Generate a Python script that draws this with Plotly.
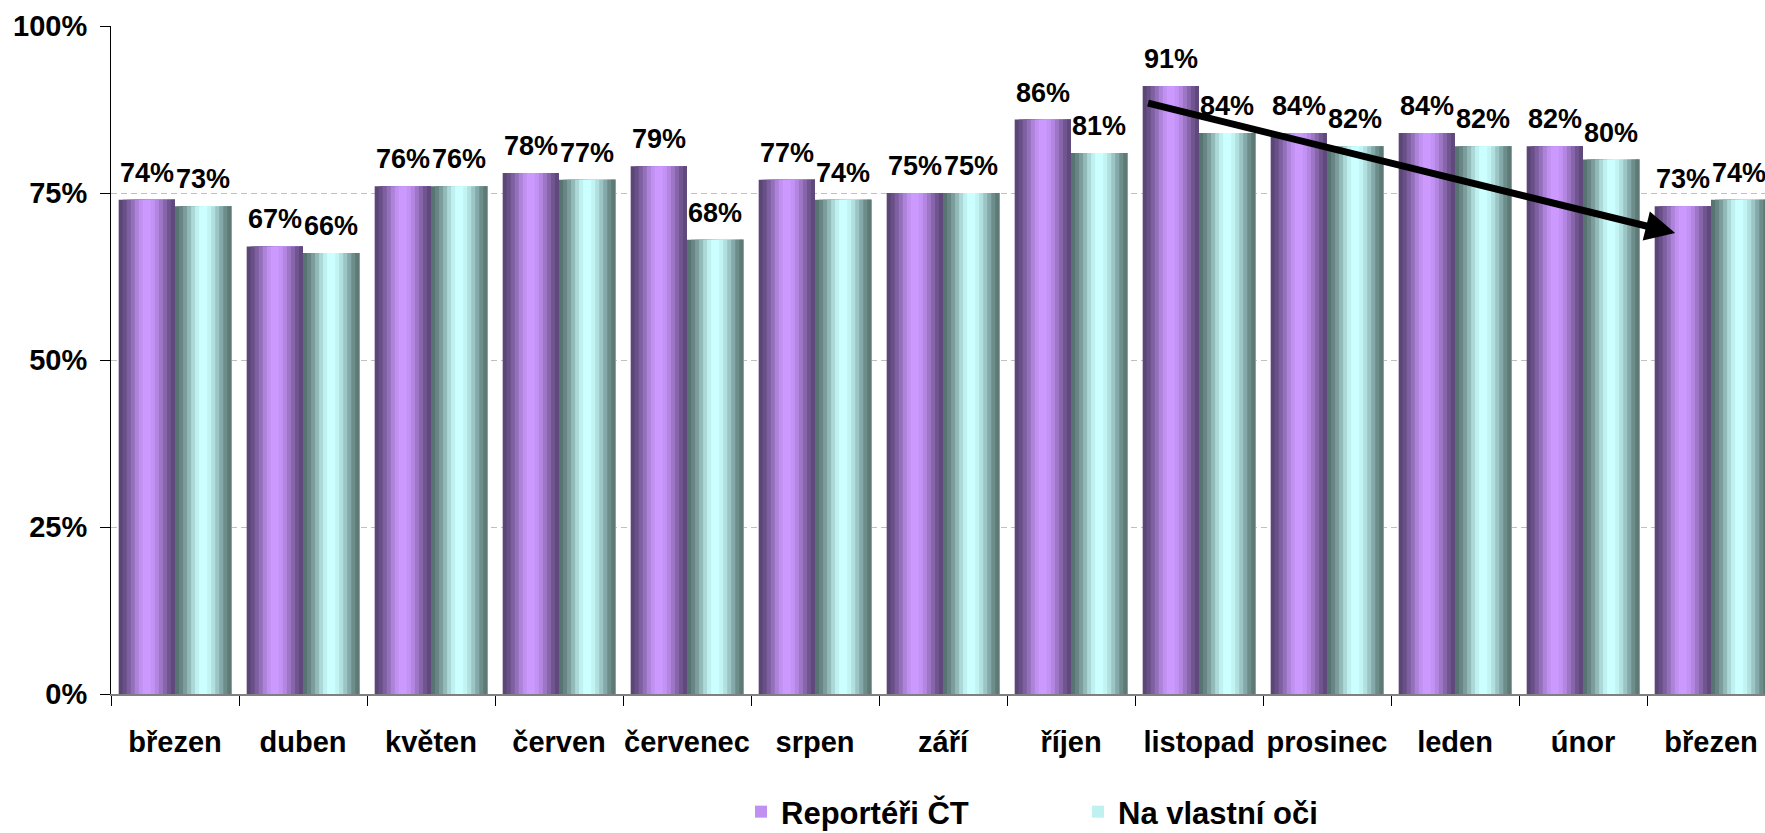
import plotly.graph_objects as go

months = ["březen", "duben", "květen", "červen", "červenec", "srpen", "září",
          "říjen", "listopad", "prosinec", "leden", "únor", "březen"]
reporteri = [74, 67, 76, 78, 79, 77, 75, 86, 91, 84, 84, 82, 73]
vlastni = [73, 66, 76, 77, 68, 74, 75, 81, 84, 82, 82, 80, 74]
series_names = ["Reportéři ČT", "Na vlastní oči"]
y_ticks = [0, 0.25, 0.5, 0.75, 1.0]

# arrow (data coordinates): from listopad to březen
arrow_from = (7.59, 0.885)
arrow_to = (11.72, 0.69)

FONT = "Arial, Liberation Sans, sans-serif"
BW = 0.44
N = 14
mix = [0.0, 0.12, 0.3, 0.5, 0.72, 0.9, 1.0, 1.0, 0.92, 0.78, 0.58, 0.38, 0.18, 0.04]


def blend(dark, light, t):
    c = [int(round(d + (l - d) * t)) for d, l in zip(dark, light)]
    return "rgb(%d,%d,%d)" % tuple(c)


palettes = [((92, 70, 119), (204, 153, 255)), ((88, 116, 114), (204, 255, 255))]
starts = [-BW, 0.0]
x = list(range(len(months)))

fig = go.Figure()
for s, vals in enumerate([reporteri, vlastni]):
    dark, light = palettes[s]
    yv = [v / 100 for v in vals]
    for k in range(N):
        fig.add_trace(go.Bar(
            x=x, y=yv,
            offset=starts[s] + k * BW / N,
            width=BW - k * BW / N,
            marker=dict(color=blend(dark, light, mix[k]), line=dict(width=0)),
            name=series_names[s],
            showlegend=(k == 5),
            legendgroup=series_names[s],
            hoverinfo="skip" if k else "x+y",
        ))

annotations = []
for s, vals in enumerate([reporteri, vlastni]):
    for i, v in enumerate(vals):
        annotations.append(dict(
            x=i + starts[s] + BW / 2, y=v / 100, xref="x", yref="y",
            text=f"{v}%", showarrow=False, yanchor="bottom", yshift=10,
            font=dict(family=FONT, size=27, color="black", weight="bold"),
        ))
annotations.append(dict(
    x=arrow_to[0], y=arrow_to[1], ax=arrow_from[0], ay=arrow_from[1],
    xref="x", yref="y", axref="x", ayref="y", text="",
    showarrow=True, arrowhead=2, arrowsize=0.85, arrowwidth=7, arrowcolor="black",
))

fig.update_layout(
    width=1765, height=833,
    margin=dict(l=111, r=0, t=26, b=139, autoexpand=False),
    paper_bgcolor="white", plot_bgcolor="white",
    barmode="overlay",
    annotations=annotations,
    showlegend=True,
    legend=dict(
        orientation="h", x=(741 - 111) / 1654, xanchor="left",
        y=-(812 - 694) / 668, yanchor="middle",
        font=dict(family=FONT, size=31, color="black", weight="bold"),
        entrywidth=292, entrywidthmode="pixels",
        bgcolor="rgba(0,0,0,0)",
    ),
    xaxis=dict(
        range=[-0.5, 12.5 - 10 / 128], automargin=False,
        tickmode="array", tickvals=x, ticktext=months,
        ticks="", showgrid=False, zeroline=False,
        showline=True, linecolor="#808080", linewidth=2,
        tickfont=dict(family=FONT, size=29, color="black", weight="bold"),
        ticklabelstandoff=21,
        minor=dict(tickmode="array", tickvals=[i - 0.5 for i in range(len(months) + 1)],
                   ticks="outside", ticklen=10, tickcolor="black", tickwidth=1, showgrid=False),
    ),
    yaxis=dict(
        range=[0, 1], tickmode="array", tickvals=y_ticks, tickformat=".0%",
        automargin=False,
        ticks="outside", ticklen=10, tickcolor="black", tickwidth=1,
        showline=True, linecolor="black", linewidth=1,
        showgrid=True, gridcolor="#c0c0c0", gridwidth=1, griddash="6px,4px",
        zeroline=False,
        tickfont=dict(family=FONT, size=29, color="black", weight="bold"),
        ticklabelstandoff=7,
    ),
)

fig.write_html(
    "out.html",
    config={"displayModeBar": False},
    post_script="document.body.style.margin='0px';document.body.style.overflow='hidden';",
)
